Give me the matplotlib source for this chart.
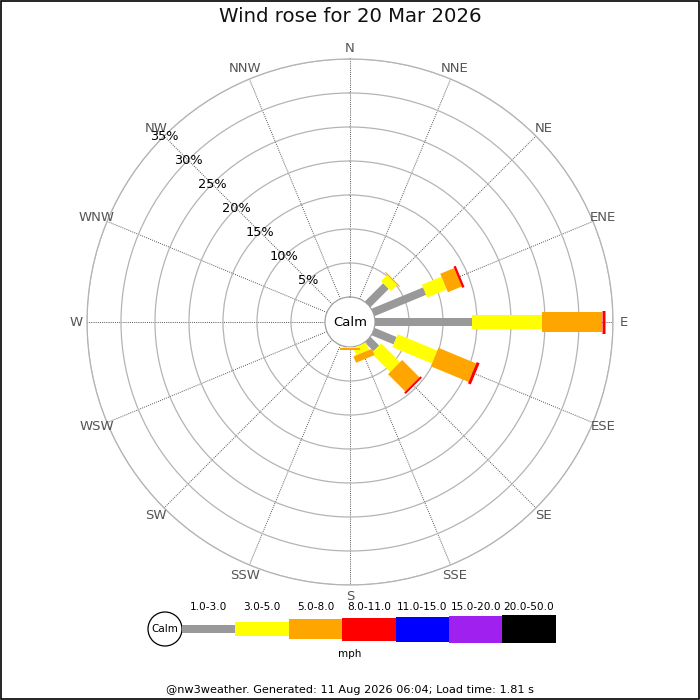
import numpy as np
import matplotlib
matplotlib.use('Agg')
import matplotlib.pyplot as plt
from matplotlib.patches import Circle, Rectangle

# directions, clockwise from north
dirs = ['N','NNE','NE','ENE','E','ESE','SE','SSE','S','SSW','SW','WSW','W','WNW','NW','NNW']

# speed bins (mph) and their colours
bins = ['1.0-3.0','3.0-5.0','5.0-8.0','8.0-11.0','11.0-15.0','15.0-20.0','20.0-50.0']
bin_cols = ['#999999','#ffff00','#ffa500','#ff0000','#0000ff','#a020f0','#000000']

# percent of time per direction, one list per speed bin
pct_1_3   = [0, 0, 3.8, 8.2, 14.3, 3.5, 1.8, 0,   0,   0, 0, 0, 0, 0, 0, 0]
pct_3_5   = [0, 0, 1.3, 3.1, 10.3, 6.3, 3.9, 1.2, 0.2, 0, 0, 0, 0, 0, 0, 0]
pct_5_8   = [0, 0, 0.15, 2.2, 8.8, 6.0, 3.6, 1.0, 0.2, 0, 0, 0, 0, 0, 0, 0]
pct_8_11  = [0, 0, 0,   0.35, 0.48, 0.45, 0.3, 0,  0,   0, 0, 0, 0, 0, 0, 0]
pct_11_15 = [0]*16
pct_15_20 = [0]*16
pct_20_50 = [0]*16
series = [pct_1_3, pct_3_5, pct_5_8, pct_8_11, pct_11_15, pct_15_20, pct_20_50]

rings = [5, 10, 15, 20, 25, 30, 35]

# bar thickness in pixels for each bin
bar_px = [8, 14, 20, 23, 25, 27, 28]
PT = 0.72  # points per pixel at 100 dpi

fig = plt.figure(figsize=(7, 7), dpi=100)
fig.patch.set_facecolor('white')

# rose axes: centre at (350,322) px, outer ring radius 263 px
cx, cy, R = 350/700., 1 - 322/700., 263/700.
ax = fig.add_axes([cx - R, cy - R, 2*R, 2*R], projection='polar')
ax.set_theta_zero_location('N')
ax.set_theta_direction(-1)
calm_r = 25.0
px_per = (263 - calm_r) / 35.0
ax.set_rorigin(-calm_r / px_per)
ax.set_rlim(0, 35)

theta = np.deg2rad(np.arange(16) * 22.5)
ax.set_xticks(theta)
ax.set_xticklabels([])
ax.set_yticks(rings)
ax.set_yticklabels([])
ax.xaxis.grid(True, color='#555555', linestyle=(0, (1, 1.2)), linewidth=0.7)
ax.yaxis.grid(True, color='#b4b4b4', linestyle='-', linewidth=0.9)
ax.spines['polar'].set_color('#b4b4b4')
ax.spines['polar'].set_linewidth(0.9)
ax.spines['inner'].set_color('#a0a0a0')
ax.spines['inner'].set_linewidth(0.9)
ax.tick_params(length=0)

# bars
for i, th in enumerate(theta):
    start = 0.0
    for j, s in enumerate(series):
        v = s[i]
        if v <= 0:
            continue
        ax.plot([th, th], [start, start + v], color=bin_cols[j],
                linewidth=bar_px[j]*PT, solid_capstyle='butt', zorder=3 + j)
        start += v

# compass labels
lab_r = 274 / px_per - calm_r / px_per
for d, th in zip(dirs, theta):
    ax.text(th, lab_r, d, ha='center', va='center', fontsize=9.5,
            color='#555555', clip_on=False)

# ring labels along NW
for r in rings:
    ax.text(np.deg2rad(315), r, '%d%%' % r, ha='center', va='center',
            fontsize=9.3, color='black', zorder=10)

ax.text(0, -calm_r / px_per, 'Calm', ha='center', va='center', fontsize=9.5, zorder=10)

# overlay in pixel coordinates for title, legend, footer
ov = fig.add_axes([0, 0, 1, 1], zorder=-1)
ov.set_xlim(0, 700)
ov.set_ylim(700, 0)
ov.axis('off')
ov.add_patch(Rectangle((0.5, 0.5), 698.5, 698.5, fill=False, edgecolor='black', linewidth=1.2))

fig.text(0.5, 1 - 17/700., 'Wind rose for 20 Mar 2026', ha='center', va='center',
         fontsize=14.2, color='#111111')
fig.text(0.5, 1 - 690/700., '@nw3weather. Generated: 11 Aug 2026 06:04; Load time: 1.81 s',
         ha='center', va='center', fontsize=8.1, color='black')

# legend
lg = fig.add_axes([0, 0, 1, 1])
lg.set_xlim(0, 700)
lg.set_ylim(700, 0)
lg.axis('off')
leg_x0, leg_seg, leg_y = 182, 53.4, 629
lg.add_patch(Circle((165, leg_y), 17, facecolor='white', edgecolor='black', linewidth=0.9))
lg.text(165, leg_y, 'Calm', ha='center', va='center', fontsize=7.5)
for j, (b, c) in enumerate(zip(bins, bin_cols)):
    xl = leg_x0 + j * leg_seg
    lg.bar(xl, bar_px[j], width=leg_seg, bottom=leg_y - bar_px[j]/2., align='edge',
           color=c, linewidth=0)
    lg.text(xl + leg_seg/2., 607, b, ha='center', va='center', fontsize=7.6)
lg.text(350, 654, 'mph', ha='center', va='center', fontsize=7.5)

fig.savefig('out.png', dpi=100, facecolor='white')
